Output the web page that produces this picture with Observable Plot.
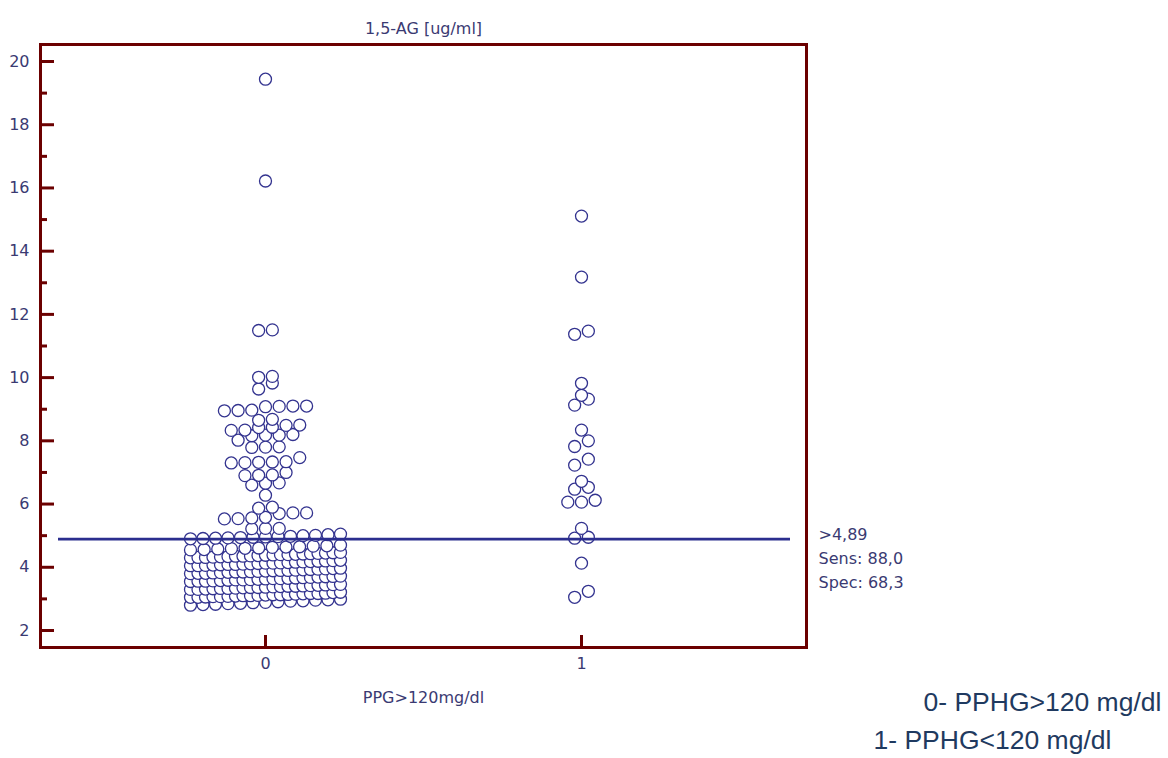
<!DOCTYPE html>
<html>
<head>
<meta charset="utf-8">
<script src="https://cdn.jsdelivr.net/npm/d3@7"></script>
<script src="https://cdn.jsdelivr.net/npm/@observablehq/plot@0.6"></script>
<style>
  html, body { margin: 0; padding: 0; background: #fff; }
  #chart { width: 1168px; height: 758px; }
</style>
</head>
<body>
<div id="chart"></div>
<script>
// 1,5-AG [ug/ml] by post-prandial glucose group (dot plot with ROC cut-off)
const groups = [0, 1];
const groupLegend = ["0- PPHG>120 mg/dl", "1- PPHG<120 mg/dl"];

// Group 0: PPHG > 120 mg/dl
const agHighPPG = [
  2.80, 2.82, 2.83, 2.85, 2.86, 2.88, 2.89, 2.91, 2.93, 2.94, 2.96, 2.97, 2.99,
  3.05, 3.05, 3.06, 3.07, 3.07, 3.08, 3.09, 3.10, 3.10, 3.11, 3.12, 3.13, 3.13, 3.14, 3.15, 3.16, 3.17, 3.17, 3.18, 3.20, 3.21,
  3.30, 3.30, 3.31, 3.32, 3.33, 3.33, 3.34, 3.35, 3.36, 3.36, 3.37, 3.38, 3.39, 3.40, 3.40, 3.41, 3.42, 3.43, 3.44, 3.45, 3.46,
  3.55, 3.56, 3.56, 3.57, 3.58, 3.59, 3.60, 3.60, 3.61, 3.62, 3.63, 3.64, 3.64, 3.65, 3.66, 3.67, 3.68, 3.69, 3.70, 3.71, 3.72,
  3.80, 3.81, 3.81, 3.82, 3.83, 3.84, 3.85, 3.85, 3.86, 3.87, 3.88, 3.89, 3.90, 3.90, 3.91, 3.92, 3.93, 3.94, 3.95, 3.96, 3.97,
  4.05, 4.05, 4.06, 4.07, 4.08, 4.09, 4.09, 4.10, 4.11, 4.12, 4.13, 4.13, 4.14, 4.15, 4.16, 4.17, 4.18, 4.19, 4.20, 4.21, 4.22,
  4.30, 4.31, 4.31, 4.32, 4.33, 4.34, 4.35, 4.35, 4.36, 4.37, 4.38, 4.39, 4.40, 4.40, 4.41, 4.42, 4.43, 4.44, 4.45, 4.46, 4.47,
  4.55, 4.56, 4.58, 4.59, 4.60, 4.61, 4.63, 4.64, 4.65, 4.67, 4.68, 4.70,
  4.90, 4.91, 4.92, 4.93, 4.94, 4.95, 4.96, 4.97, 4.98, 5.00, 5.01, 5.03, 5.05,
  5.22, 5.23, 5.23,
  5.53, 5.54, 5.56, 5.58, 5.70, 5.72, 5.72,
  5.87, 5.90,
  6.28,
  6.60, 6.66, 6.67,
  6.90, 6.91, 6.92, 7.00,
  7.30, 7.31, 7.32, 7.33, 7.34, 7.47,
  7.79, 7.80, 7.81,
  8.02, 8.16, 8.18, 8.18, 8.20,
  8.33, 8.34, 8.42, 8.43, 8.49, 8.50,
  8.65, 8.68,
  8.95, 8.96, 8.97, 9.08, 9.09, 9.10, 9.10,
  9.64, 9.83,
  10.01, 10.04,
  11.49, 11.51,
  16.22,
  19.44
];

// Group 1: PPHG < 120 mg/dl
const agLowPPG = [
  3.05, 3.24, 4.13, 4.92, 4.95, 5.23, 6.06, 6.06, 6.12, 6.47, 6.53, 6.72,
  7.23, 7.42, 7.82, 8.00, 8.34, 9.13, 9.32, 9.44, 9.82, 11.37, 11.47, 13.18, 15.11
];

const cutoff = 4.89;
const yMajor = [2, 4, 6, 8, 10, 12, 14, 16, 18, 20];
const yMinor = [3, 5, 7, 9, 11, 13, 15, 17, 19];
const yTitle = "1,5-AG [ug/ml]";
const xTitle = "PPG>120mg/dl";

// Frame geometry
const width = 1168, height = 758;
const marginLeft = 40, marginRight = 362, marginTop = 44, marginBottom = 111;
const xDomain = [-0.712, 1.712];
const yDomain = [1.462, 20.538];
const xUnit = (width - marginLeft - marginRight) / (xDomain[1] - xDomain[0]); // px per x unit
const yUnit = (height - marginTop - marginBottom) / (yDomain[1] - yDomain[0]); // px per y unit

// Dot-plot layout: values closer than rowSpan share a row, spread side by side
const rowSpan = 0.2, dotGap = 13.7, maxSpread = 150;
function dotRows(values, group) {
  const sorted = values.slice().sort(d3.ascending);
  const rows = [];
  for (const v of sorted) {
    const row = rows[rows.length - 1];
    if (row && v - row[0] < rowSpan) row.push(v);
    else rows.push([v]);
  }
  return rows.flatMap(row => {
    const n = row.length;
    const gap = n > 1 ? Math.min(dotGap, maxSpread / (n - 1)) : 0;
    return row.map((v, i) => ({group, value: v, x: group + ((i - (n - 1) / 2) * gap) / xUnit}));
  });
}
const points = [...dotRows(agHighPPG, groups[0]), ...dotRows(agLowPPG, groups[1])];

// Sensitivity / specificity of the cut-off
const comma = s => s.replace(".", ",");
const sens = d3.mean(agLowPPG, v => v > cutoff) * 100;
const spec = d3.mean(agHighPPG, v => v <= cutoff) * 100;
const cutoffLabel = `>${comma(cutoff.toFixed(2))}\nSens: ${comma(sens.toFixed(1))}\nSpec: ${comma(spec.toFixed(1))}`;

const frameColor = "#6b0000";
const dotColor = "#33338f";
const textColor = "#3a3a72";

// inward tick lengths (px) converted to data units
const majorLen = 14 / xUnit, minorLen = 7 / xUnit, xTickLen = 12 / yUnit;

const chart = Plot.plot({
  width, height, marginLeft, marginRight, marginTop, marginBottom,
  x: {domain: xDomain, label: null},
  y: {domain: yDomain, label: null},
  style: {fontFamily: "'DejaVu Sans', sans-serif", fontSize: "16px", color: textColor, background: "#fff"},
  marks: [
    Plot.dot(points, {x: "x", y: "value", r: 6, fill: "#fff", stroke: dotColor, strokeWidth: 1.3}),
    Plot.ruleY([cutoff], {stroke: "#2b2e8e", strokeWidth: 2.6, insetLeft: 18, insetRight: 16}),
    // inward tick marks
    Plot.ruleY(yMajor, {y: d => d, x1: xDomain[0], x2: xDomain[0] + majorLen, stroke: frameColor, strokeWidth: 3}),
    Plot.ruleY(yMinor, {y: d => d, x1: xDomain[0], x2: xDomain[0] + minorLen, stroke: frameColor, strokeWidth: 3}),
    Plot.ruleX(groups, {x: d => d, y1: yDomain[0], y2: yDomain[0] + xTickLen, stroke: frameColor, strokeWidth: 3}),
    Plot.frame({stroke: frameColor, strokeWidth: 3}),
    Plot.axisY(yMajor, {tickSize: 0, tickPadding: 11, label: null}),
    Plot.axisX(groups, {tickSize: 0, tickPadding: 10, tickFormat: d => String(d), label: null}),
    Plot.text([yTitle], {frameAnchor: "top", dy: -16, lineAnchor: "middle"}),
    Plot.text([xTitle], {frameAnchor: "bottom", dy: 50, lineAnchor: "middle"}),
    Plot.text([{value: cutoff, label: cutoffLabel}], {
      y: "value", text: "label", frameAnchor: "right", dx: 12, dy: -16,
      textAnchor: "start", lineAnchor: "top", lineHeight: 1.5
    }),
    Plot.text([groupLegend[0]], {
      frameAnchor: "bottom-left", dx: 883, dy: 63, textAnchor: "start", lineAnchor: "bottom",
      fontSize: 26.5, fontFamily: "'Liberation Sans', Arial, sans-serif", fill: "#1f3a60"
    }),
    Plot.text([groupLegend[1]], {
      frameAnchor: "bottom-left", dx: 833, dy: 101, textAnchor: "start", lineAnchor: "bottom",
      fontSize: 26.5, fontFamily: "'Liberation Sans', Arial, sans-serif", fill: "#1f3a60"
    })
  ]
});
document.getElementById("chart").append(chart);
</script>
</body>
</html>
